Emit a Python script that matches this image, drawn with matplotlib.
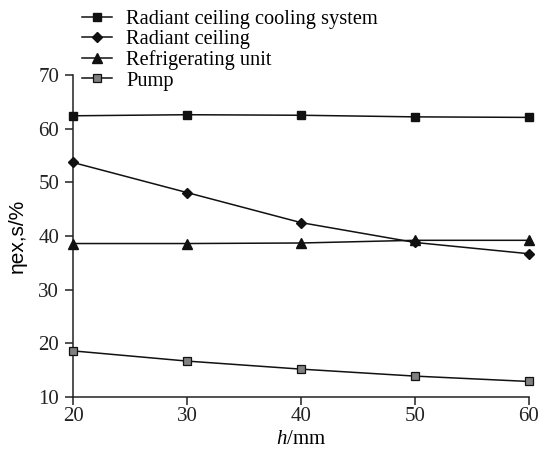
import matplotlib
matplotlib.use("Agg")
import matplotlib.pyplot as plt

h_mm = [20, 30, 40, 50, 60]
system = [62.4, 62.6, 62.5, 62.2, 62.1]
ceiling = [53.7, 48.1, 42.5, 38.8, 36.7]
refrig = [38.6, 38.6, 38.7, 39.2, 39.2]
pump = [18.6, 16.7, 15.2, 13.9, 12.9]
labels = ["Radiant ceiling cooling system", "Radiant ceiling", "Refrigerating unit", "Pump"]
xticks = [20, 30, 40, 50, 60]
yticks = [10, 20, 30, 40, 50, 60, 70]

plt.rcParams['font.family'] = ['Liberation Serif', 'DejaVu Serif']
plt.rcParams['mathtext.fontset'] = 'custom'
plt.rcParams['mathtext.it'] = 'Liberation Serif:italic'
plt.rcParams['mathtext.rm'] = 'Liberation Serif'

fig = plt.figure(figsize=(5.38, 4.59), dpi=100)
ax = fig.add_axes([0.1357, 0.135, 0.983 - 0.1357, 0.8366 - 0.135])

lw = 1.1
l1, = ax.plot(h_mm, system, color='#111111', lw=lw, marker='s', ms=6, mfc='#111111', mec='#111111', clip_on=False, zorder=3)
l2, = ax.plot(h_mm, ceiling, color='#111111', lw=lw, marker='D', ms=5.5, mfc='#111111', mec='#111111', clip_on=False, zorder=3)
l3, = ax.plot(h_mm, refrig, color='#111111', lw=lw, marker='^', ms=7.5, mfc='#111111', mec='#111111', clip_on=False, zorder=3)
l4, = ax.plot(h_mm, pump, color='#111111', lw=lw, marker='s', ms=6, mfc='#808080', mec='#111111', mew=0.9, clip_on=False, zorder=3)

ax.set_xlim(20, 60)
ax.set_ylim(10, 70)
ax.set_xticks(xticks)
ax.set_yticks(yticks)
ax.spines['top'].set_visible(False)
ax.spines['right'].set_visible(False)
for s in ['left', 'bottom']:
    ax.spines[s].set_linewidth(1.1)
    ax.spines[s].set_color('#222222')
ax.tick_params(direction='out', length=6, width=1.1, labelsize=15, colors='#222222')
ax.tick_params(axis='y', pad=4)
ax.tick_params(axis='x', pad=1)

ax.set_xlabel('$h$/mm', fontsize=15, labelpad=3)
ax.set_ylabel('ηex,s/%', fontsize=15, family=['Liberation Sans', 'DejaVu Sans'], labelpad=8)

fig.legend([l1, l2, l3, l4], labels, loc='upper left', bbox_to_anchor=(0.125, 1.01),
           frameon=False, fontsize=14.7, handlelength=1.5, handletextpad=0.7,
           labelspacing=0.05, borderpad=0.2)

fig.savefig('out.png', dpi=100)
